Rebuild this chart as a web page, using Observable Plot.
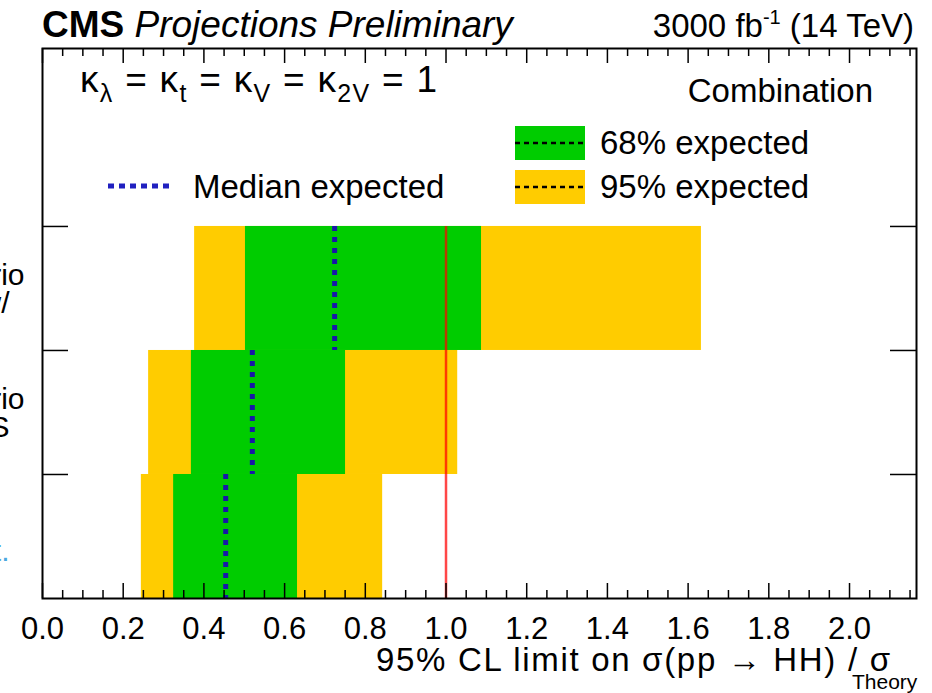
<!DOCTYPE html>
<html><head><meta charset="utf-8">
<script src="https://cdn.jsdelivr.net/npm/d3@7"></script>
<script src="https://cdn.jsdelivr.net/npm/@observablehq/plot@0.6"></script>
<style>body{margin:0;background:#fff;overflow:hidden}</style>
</head><body><div id="chart"></div>
<script>
// ---- data (rows from bottom to top) ----
const rows = [0, 1, 2];
const rowLabel1 = ["", "Scenario", "Scenario"];
const rowLabel2 = ["Stat.", "S2 S", "S1 w/"];
const lo95 = [0.245, 0.263, 0.377];
const lo68 = [0.325, 0.369, 0.503];
const median = [0.454, 0.520, 0.724];
const hi68 = [0.632, 0.751, 1.088];
const hi95 = [0.843, 1.029, 1.633];
const theoryLine = [1.0];
const xTicks = [0, 0.2, 0.4, 0.6, 0.8, 1.0, 1.2, 1.4, 1.6, 1.8, 2.0];
const xMinor = [0.05,0.1,0.15,0.25,0.3,0.35,0.45,0.5,0.55,0.65,0.7,0.75,0.85,0.9,0.95,1.05,1.1,1.15,1.25,1.3,1.35,1.45,1.5,1.55,1.65,1.7,1.75,1.85,1.9,1.95,2.05,2.1,2.15];
const yTicks = [1, 2, 3];

const bands = rows.map((r, i) => ({row: r, l1: rowLabel1[i], l2: rowLabel2[i], lo95: lo95[i], lo68: lo68[i], median: median[i], hi68: hi68[i], hi95: hi95[i]}));

// ---- layout ----
const W = 932, H = 693;
const mL = 42, mR = 16, mT = 48, mB = 95;
const xMax = 2.166, yMax = 4.435;
const pxX = xMax / (W - mL - mR);
const pxY = yMax / (H - mT - mB);
const majorLen = 15, minorLen = 8, yTickLen = 26;
const FONT = "'Liberation Sans', Arial, Helvetica, sans-serif";

const plot = Plot.plot({
  width: W, height: H,
  marginLeft: mL, marginRight: mR, marginTop: mT, marginBottom: mB,
  style: {fontFamily: FONT, background: "white", overflow: "visible"},
  x: {domain: [0, xMax]},
  y: {domain: [0, yMax], axis: null},
  marks: [
    Plot.rect(bands, {x1: "lo95", x2: "hi95", y1: "row", y2: d => d.row + 1, fill: "#ffcc00"}),
    Plot.rect(bands, {x1: "lo68", x2: "hi68", y1: "row", y2: d => d.row + 1, fill: "#00cc00"}),
    Plot.ruleX(bands, {x: "median", y1: d => d.row + 1, y2: "row", stroke: "#1818a8", strokeWidth: 5, strokeDasharray: "5,6"}),
    Plot.ruleX(theoryLine, {x: d => d, y1: 0, y2: rows.length, stroke: "red", strokeWidth: 2.5, strokeOpacity: 0.72}),
    // inward ticks bottom & top
    Plot.ruleX(xTicks, {x: d => d, y1: 0, y2: majorLen * pxY, stroke: "black", strokeWidth: 1.5}),
    Plot.ruleX(xMinor, {x: d => d, y1: 0, y2: minorLen * pxY, stroke: "black", strokeWidth: 1.5}),
    Plot.ruleX(xTicks, {x: d => d, y1: yMax, y2: yMax - majorLen * pxY, stroke: "black", strokeWidth: 1.5}),
    Plot.ruleX(xMinor, {x: d => d, y1: yMax, y2: yMax - minorLen * pxY, stroke: "black", strokeWidth: 1.5}),
    // y ticks left & right
    Plot.ruleY(yTicks, {y: d => d, x1: 0, x2: yTickLen * pxX, stroke: "black", strokeWidth: 1.5}),
    Plot.ruleY(yTicks, {y: d => d, x1: xMax, x2: xMax - yTickLen * pxX, stroke: "black", strokeWidth: 1.5}),
    Plot.frame({stroke: "black", strokeWidth: 2}),
    Plot.axisX(xTicks, {tickSize: 0, tickPadding: 18, tickFormat: d3.format(".1f"), fontSize: 31, fill: "black", label: null}),
    Plot.text(bands, {x: d => 0, y: d => d.row + 0.5, text: "l1", dx: -18, dy: -13, textAnchor: "end", lineAnchor: "middle", fontSize: 30, fill: "black"}),
    Plot.text(bands, {x: d => 0, y: d => d.row + 0.5, text: "l2", dx: -33, dy: 15, textAnchor: "end", lineAnchor: "middle", fontSize: 30, fill: d => d.row === 0 ? "#4aa8e0" : "black"})
  ]
});
document.getElementById("chart").appendChild(plot);

// ---- annotations & legend ----
const svg = d3.select(plot);
const g = svg.append("g").attr("font-family", FONT).attr("fill", "black").attr("text-anchor", "start");

// title
const t1 = g.append("text").attr("x", 42).attr("y", 37).attr("font-size", 37);
t1.append("tspan").attr("font-weight", "bold").text("CMS");
t1.append("tspan").attr("font-style", "italic").text(" Projections Preliminary");
const t2 = g.append("text").attr("x", 914).attr("y", 37).attr("font-size", 33).attr("text-anchor", "end");
t2.append("tspan").text("3000 fb");
t2.append("tspan").attr("font-size", 20).attr("dy", -13).text("-1");
t2.append("tspan").attr("dy", 13).text(" (14 TeV)");

// kappa text
const k = g.append("text").attr("x", 80).attr("y", 92).attr("font-size", 37).attr("textLength", 357).attr("lengthAdjust", "spacing");
const sub = (s) => { k.append("tspan").attr("font-size", 25).attr("dy", 10).text(s); };
const norm = (s) => { k.append("tspan").attr("font-size", 37).attr("dy", -10).text(s); };
k.append("tspan").text("κ"); sub("λ"); norm(" = κ"); sub("t"); norm(" = κ"); sub("V"); norm(" = κ"); sub("2V"); norm(" = 1");

g.append("text").attr("x", 873).attr("y", 102).attr("font-size", 33).attr("text-anchor", "end").text("Combination");

// legend boxes
g.append("rect").attr("x", 515).attr("y", 126).attr("width", 70).attr("height", 34).attr("fill", "#00cc00");
g.append("line").attr("x1", 515).attr("x2", 585).attr("y1", 143).attr("y2", 143).attr("stroke", "black").attr("stroke-width", 2.5).attr("stroke-dasharray", "5,4");
g.append("text").attr("x", 600).attr("y", 154).attr("font-size", 33).text("68% expected");
g.append("rect").attr("x", 515).attr("y", 170).attr("width", 70).attr("height", 34).attr("fill", "#ffcc00");
g.append("line").attr("x1", 515).attr("x2", 585).attr("y1", 187).attr("y2", 187).attr("stroke", "black").attr("stroke-width", 2.5).attr("stroke-dasharray", "5,4");
g.append("text").attr("x", 600).attr("y", 198).attr("font-size", 33).text("95% expected");
g.append("line").attr("x1", 108).attr("x2", 174).attr("y1", 186).attr("y2", 186).attr("stroke", "#2020c0").attr("stroke-width", 5).attr("stroke-dasharray", "6,5");
g.append("text").attr("x", 193).attr("y", 198).attr("font-size", 33).text("Median expected");

// x-axis title
g.append("text").attr("x", 376).attr("y", 671).attr("font-size", 33).attr("textLength", 514).attr("lengthAdjust", "spacing").text("95% CL limit on σ(pp → HH) / σ");
g.append("text").attr("x", 852).attr("y", 689).attr("font-size", 21).text("Theory");
</script>
</body></html>
